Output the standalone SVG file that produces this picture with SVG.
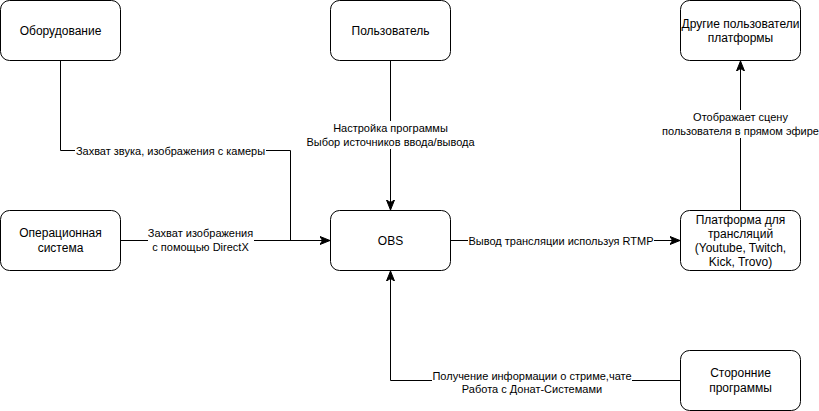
<svg xmlns="http://www.w3.org/2000/svg" width="819" height="411" viewBox="0 0 819 411">
<style>
.node{fill:#fff;stroke:#000;stroke-width:1}
.t{font-family:"Liberation Sans",Arial,sans-serif;font-size:12px;fill:#000;text-anchor:middle;dominant-baseline:central}
.l{font-family:"Liberation Sans",Arial,sans-serif;font-size:11px;fill:#000;text-anchor:middle;dominant-baseline:central}
.e{fill:none;stroke:#000;stroke-width:1}
.bg{fill:#fff}
</style>
<defs>
<marker id="a" viewBox="0 0 10 10" refX="9" refY="5" markerWidth="10" markerHeight="10" markerUnits="userSpaceOnUse" orient="auto">
<path d="M0,1 L10,5 L0,9 L2.5,5 Z" fill="#000" stroke="#000"/>
</marker>
</defs>
<rect width="819" height="411" fill="#fff"/>
<g id="connectors">
<path class="e" d="M60.5,60.5 V150.5 H290.5 V240.5 H329" marker-end="url(#a)"/>
<path class="e" d="M120.5,240.5 H329"/>
<path class="e" d="M390.5,60.5 V209" marker-end="url(#a)"/>
<path class="e" d="M450.5,240.5 H679" marker-end="url(#a)"/>
<path class="e" d="M740.5,210.5 V62" marker-end="url(#a)"/>
<path class="e" d="M680.5,380.5 H390.5 V272" marker-end="url(#a)"/>
<rect class="bg" x="75" y="143" width="191" height="14"/>
<text class="l" x="170.5" y="150.5">Захват звука, изображения с камеры</text>
<rect class="bg" x="148" y="226" width="106" height="29"/>
<text class="l" x="200.5" y="233">Захват изображения</text>
<text class="l" x="200.5" y="247">с помощью DirectX</text>
<rect class="bg" x="332" y="121" width="117" height="28"/>
<text class="l" x="390.5" y="128">Настройка программы</text>
<text class="l" x="390.5" y="142">Выбор источников ввода/вывода</text>
<rect class="bg" x="468" y="233" width="186" height="14"/>
<text class="l" x="561" y="240.5">Вывод трансляции используя RTMP</text>
<rect class="bg" x="661" y="110" width="158" height="28"/>
<text class="l" x="740.5" y="117">Отображает сцену</text>
<text class="l" x="740.5" y="131">пользователя в прямом эфире</text>
<rect class="bg" x="432" y="369" width="200" height="28"/>
<text class="l" x="532" y="376">Получение информации о стриме,чате</text>
<text class="l" x="532" y="389">Работа с Донат-Системами</text>
</g>
<g id="n-hardware">
<rect class="node" x="0.5" y="0.5" width="120" height="60" rx="9"/>
<text class="t" x="60.5" y="30.5">Оборудование</text>
</g>
<g id="n-user">
<rect class="node" x="330.5" y="0.5" width="120" height="60" rx="9"/>
<text class="t" x="390.5" y="30.5">Пользователь</text>
</g>
<g id="n-others">
<rect class="node" x="680.5" y="0.5" width="120" height="60" rx="9"/>
<text class="t" x="740.5" y="24">Другие пользователи</text>
<text class="t" x="740.5" y="38">платформы</text>
</g>
<g id="n-os">
<rect class="node" x="0.5" y="210.5" width="120" height="60" rx="9"/>
<text class="t" x="60.5" y="233">Операционная</text>
<text class="t" x="60.5" y="248">система</text>
</g>
<g id="n-obs">
<rect class="node" x="330.5" y="210.5" width="120" height="60" rx="9"/>
<text class="t" x="390.5" y="240.5">OBS</text>
</g>
<g id="n-platform">
<rect class="node" x="680.5" y="210.5" width="120" height="60" rx="9"/>
<text class="t" x="740.5" y="220">Платформа для</text>
<text class="t" x="740.5" y="234">трансляций</text>
<text class="t" x="740.5" y="248">(Youtube, Twitch,</text>
<text class="t" x="740.5" y="262">Kick, Trovo)</text>
</g>
<g id="n-thirdparty">
<rect class="node" x="680.5" y="350.5" width="120" height="60" rx="9"/>
<text class="t" x="740.5" y="373">Сторонние</text>
<text class="t" x="740.5" y="388">программы</text>
</g>
</svg>
